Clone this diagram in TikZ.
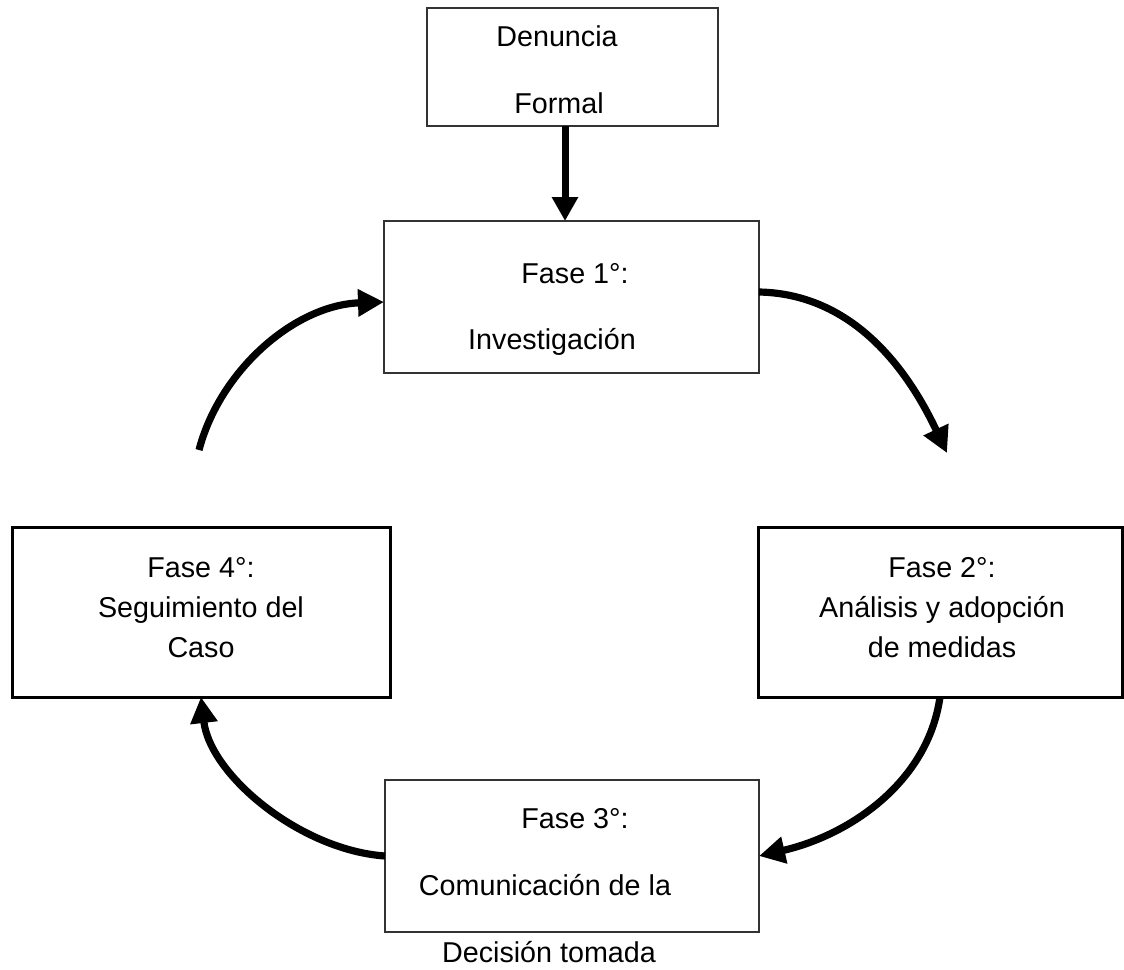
\documentclass[tikz,border=0pt]{standalone}
\usepackage{fontspec}
\setmainfont{Liberation Sans}
\usetikzlibrary{arrows.meta}
\begin{document}
\begin{tikzpicture}[x=1pt,y=1pt,
  thinbox/.style={draw=black!80, line width=1.3pt, inner sep=0pt, outer sep=0pt},
  thickbox/.style={draw=black, line width=3pt, inner sep=0pt, outer sep=0pt},
  lbl/.style={anchor=base, inner sep=0pt, font=\fontsize{28.7}{34}\selectfont},
  arr/.style={line width=7.2pt, -{Triangle[length=26pt,width=26pt]}},
  downarr/.style={line width=7pt, -{Triangle[length=24pt,width=25pt]}},
]
\useasboundingbox (0,0) rectangle (1124,-969);

% boxes
\node[thinbox, minimum width=291pt, minimum height=118pt] (den) at (572.5,-67) {};
\node[thinbox, minimum width=375pt, minimum height=152pt] (f1) at (571.5,-297) {};
\node[thickbox, minimum width=364pt, minimum height=170pt] (f2) at (940,-612) {};
\node[thinbox, minimum width=374pt, minimum height=152pt] (f3) at (572,-856) {};
\node[thickbox, minimum width=378pt, minimum height=170pt] (f4) at (201,-612) {};

% texts
\node[lbl] (denA) at (557,-46) {Denuncia};
\node[lbl] (denB) at (559,-113) {Formal};
\node[lbl] (f1A) at (575,-283) {Fase 1°:};
\node[lbl] (f1B) at (552,-349) {Investigación};
\node[lbl] (f2A) at (942,-577) {Fase 2°:};
\node[lbl] (f2B) at (942,-617) {Análisis y adopción};
\node[lbl] (f2C) at (942,-657) {de medidas};
\node[lbl] (f4A) at (201,-577) {Fase 4°:};
\node[lbl] (f4B) at (201,-617) {Seguimiento del};
\node[lbl] (f4C) at (201,-657) {Caso};
\node[lbl] (f3A) at (575,-828) {Fase 3°:};
\node[lbl] (f3B) at (545,-895) {Comunicación de la};
\node[lbl] (f3C) at (549,-962) {Decisión tomada};

% free ends
\coordinate (a1end) at (947,-453);
\coordinate (a4start) at (199,-450);

% connectors
\draw[downarr] ([xshift=-7.5pt]den.south) -- ([xshift=-7.5pt]den.south |- f1.north);
\draw[arr] ([yshift=5pt]f1.east) .. controls (860,-294) and (913,-381) .. (a1end);
\draw[arr] (f2.south) .. controls (928,-782) and (850,-835) .. (f3.east);
\draw[arr] (f3.west) .. controls (300,-850) and (210,-775) .. (f4.south);
\draw[arr] (a4start) .. controls (220,-370) and (295,-305) .. ([yshift=-5pt]f1.west);
\end{tikzpicture}
\end{document}
